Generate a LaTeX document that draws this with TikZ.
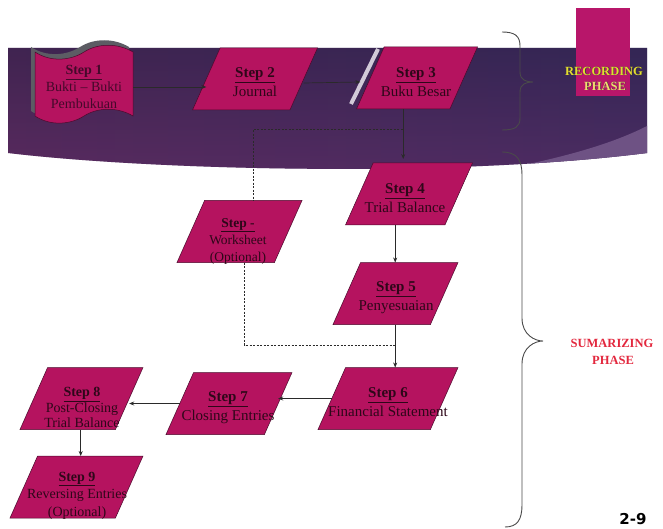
\documentclass[tikz,border=0pt]{standalone}
\usepackage{fontspec}
\setmainfont{Liberation Serif}
\newfontfamily\numfont{DejaVu Sans}
\usetikzlibrary{arrows.meta}
\definecolor{stepfill}{HTML}{B5135F}
\definecolor{stepedge}{HTML}{4A0A2C}
\definecolor{steptext}{HTML}{2E0719}
\definecolor{oneText}{HTML}{44092A}
\definecolor{bandL}{HTML}{4A2858}
\definecolor{bandM}{HTML}{6E2D68}
\definecolor{bandR}{HTML}{382B5E}
\definecolor{bandTop}{HTML}{2A1C40}
\definecolor{bandBot}{HTML}{7E3070}
\definecolor{swoosh}{HTML}{6E5284}
\definecolor{stripe}{HTML}{D2CAD8}
\definecolor{recbox}{HTML}{B8166A}
\definecolor{recyel}{HTML}{E2DC30}
\definecolor{recyelb}{HTML}{F2DA70}
\definecolor{sumred}{HTML}{E3283E}
\definecolor{linegray}{HTML}{2A2A2A}
\definecolor{bracegray}{HTML}{4A4A4A}
\definecolor{shadowgray}{HTML}{5C5C64}
% #1 name, #2 cx, #3 cy, #4 total width
\newcommand\parabox[4]{%
  \pgfmathsetmacro\pL{#2-#4/2}%
  \pgfmathsetmacro\pR{#2+#4/2}%
  \filldraw[parashape] (\pL,#3+31) -- ({\pR-27.6},{#3+31}) -- (\pR,{#3-31}) -- ({\pL+27.6},{#3-31}) -- cycle;
  \node[inner sep=0pt, minimum width={#4-27.6}, minimum height=62pt] (#1) at (#2,#3) {};
  \coordinate (#1bs) at ({(\pL+\pR-27.6)/2},{#3+31});
  \coordinate (#1ts) at ({(\pL+\pR+27.6)/2},{#3-31});
  \coordinate (#1ls) at ({\pL+13.8},#3);
  \coordinate (#1rs) at ({\pR-13.8},#3);
}
\begin{document}
\begin{tikzpicture}[x=1pt,y=-1pt,
  parashape/.style={fill=stepfill, draw=stepedge, line width=0.5pt},
  txt/.style={text=steptext, align=center, inner sep=0pt, font=\fontsize{15}{19}\selectfont},
  arr/.style={draw=linegray, line width=0.7pt, -{Stealth[length=5pt,width=4pt]}},
  dline/.style={draw=linegray, line width=0.7pt, dash pattern=on 2pt off 1.5pt},
  bracepath/.style={draw=bracegray, line width=0.9pt},
]
\fill[white] (0,0) rectangle (663,529);
\useasboundingbox (0,0) rectangle (663,529);

% band
\shade[left color=bandL, middle color=bandM, right color=bandR]
  (8,48) -- (647,48) -- (647,153) .. controls (450,178) and (150,170) .. (8,153) -- cycle;
\shade[top color=bandTop, bottom color=bandBot, fill opacity=0.3]
  (8,48) -- (647,48) -- (647,153) .. controls (450,178) and (150,170) .. (8,153) -- cycle;
\begin{scope}
  \clip (8,48) -- (647,48) -- (647,153) .. controls (450,178) and (150,170) .. (8,153) -- cycle;
  \fill[swoosh] (647,126) .. controls (600,150) and (530,166) .. (440,180) -- (700,200) -- cycle;
\end{scope}

% recording box
\fill[recbox] (576,8) rectangle (630,96);

% step 1 document shape
\fill[shadowgray, shift={(-4,-5)}] (35,52) .. controls (50,62) and (70,61) .. (84,52)
  .. controls (98,43) and (118,43) .. (133,52) -- (133,116)
  .. controls (118,107) and (98,107) .. (84,116) .. controls (70,125) and (50,126) .. (35,116) -- cycle;
\filldraw[parashape] (35,52) .. controls (50,62) and (70,61) .. (84,52)
  .. controls (98,43) and (118,43) .. (133,52) -- (133,116)
  .. controls (118,107) and (98,107) .. (84,116) .. controls (70,125) and (50,126) .. (35,116) -- cycle;
\node[text=oneText, align=center, inner sep=0pt, minimum width=98pt, minimum height=70pt,
  font=\fontsize{14}{17}\selectfont] (s1) at (84,87) {\underline{\textbf{Step 1}}\\Bukti – Bukti\\Pembukuan};

% stripe left of step 3
\draw[stripe, line width=4pt] (378,49) -- (351,104);

% parallelograms
\parabox{s2}{255}{79}{125}
\parabox{s3}{417}{78}{121}
\parabox{s4}{409}{194}{127}
\parabox{ws}{239.5}{231.5}{125}
\parabox{s5}{395.5}{293.5}{125}
\parabox{s6}{388}{398.5}{140}
\parabox{s7}{229}{403.5}{126}
\parabox{s8}{81.5}{398.5}{123}
\parabox{s9}{76.5}{487}{133}

% connectors
\coordinate (d1) at (402.7,129);
\coordinate (d2) at (395.2,345);
\draw[arr] (s1.east) -- (s1.east -| s2ls);
\draw[arr] ([yshift=-4pt]s2rs) -- ([xshift=-10pt,yshift=-4pt]s3ls);
\draw[arr] (s3bs) -- ([yshift=4pt]s3bs |- s4ts);
\draw[dline] (d1) -| (wsts);
\draw[arr] (s4bs) -- (s4bs |- s5ts);
\draw[arr] (s4bs |- s5bs) -- (s4bs |- s6ts);
\draw[dline] ([xshift=19pt]wsbs) |- (d2);
\draw[arr] (s6ls) -- (s6ls -| s7rs);
\draw[arr] (s7ls) -- (s7ls -| s8rs);
\draw[arr] ([xshift=13pt]s8bs) -- ([xshift=13pt]s8bs |- s9ts);

% texts
\node[txt] (s2t) at (255,82.5) {\underline{\textbf{Step 2}}\\Journal};
\node[txt] (s3t) at (416,82.5) {\underline{\textbf{Step 3}}\\Buku Besar};
\node[txt] (s4t) at (405,198) {\underline{\textbf{Step 4}}\\Trial Balance};
\node[txt, font=\fontsize{13.5}{17}\selectfont] (wst) at (238,241) {\underline{\textbf{Step -}}\\Worksheet\\(Optional)};
\node[txt] (s5t) at (396,297.5) {\underline{\textbf{Step 5}}\\Penyesuaian};
\node[txt] (s6t) at (388,402) {\underline{\textbf{Step 6}}\\Financial Statement};
\node[txt] (s7t) at (228,407.5) {\underline{\textbf{Step 7}}\\Closing Entries};
\node[txt, font=\fontsize{14}{15.5}\selectfont] (s8t) at (82,407.5) {\underline{\textbf{Step 8}}\\Post-Closing\\Trial Balance};
\node[txt, font=\fontsize{14}{17.5}\selectfont] (s9t) at (77,495.5) {\underline{\textbf{Step 9}}\\Reversing Entries\\(Optional)};

% braces
\draw[bracepath] (502,32) .. controls (515,32) and (520,36) .. (520,46) -- (520,72)
  .. controls (520,80) and (526,82) .. (533,82) .. controls (526,82) and (520,84) .. (520,92)
  -- (520,118) .. controls (520,127) and (515,130) .. (502,130);
\draw[bracepath] (502,152) .. controls (517,152) and (522,160) .. (522,175) -- (522,318)
  .. controls (522,335) and (535,341) .. (543,341) .. controls (535,341) and (522,347) .. (522,364)
  -- (522,505) .. controls (522,520) and (517,527) .. (505,527);

% phase labels
\node[text=black!80, font=\fontsize{12.5}{14}\selectfont\bfseries] (rec1s) at (604.6,71.6) {RECORDING};
\node[text=recyel, font=\fontsize{12.5}{14}\selectfont\bfseries] (rec1) at (604,71) {RECORDING};
\node[text=black!80, font=\fontsize{12.5}{14}\selectfont\bfseries] (rec2s) at (605.6,86.6) {PHASE};
\node[text=recyelb, font=\fontsize{12.5}{14}\selectfont\bfseries] (rec2) at (605,86) {PHASE};
\node[text=sumred, font=\fontsize{12.5}{15}\selectfont\bfseries] (sum1) at (612,343) {SUMARIZING};
\node[text=sumred, font=\fontsize{12.5}{15}\selectfont\bfseries] (sum2) at (613,360) {PHASE};

% page number
\node[font=\numfont\bfseries\fontsize{15}{18}\selectfont] (pg) at (633,519) {2-9};
\end{tikzpicture}
\end{document}
